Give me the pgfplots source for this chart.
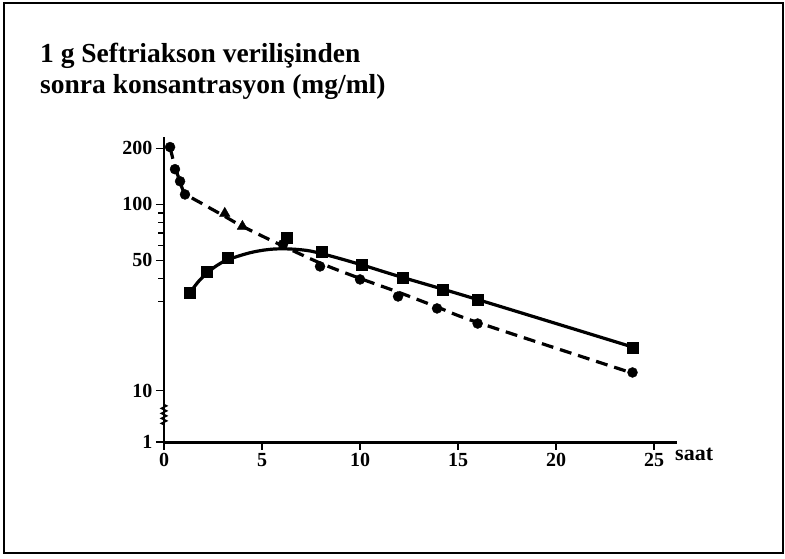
\documentclass[border=0pt]{standalone}
\usepackage{fontspec}
\setmainfont{Liberation Serif}
\usepackage{pgfplots}
\pgfplotsset{compat=1.18}
\usetikzlibrary{decorations.pathmorphing}
\begin{document}
\begin{tikzpicture}[x=1pt,y=1pt]
\useasboundingbox (0,0) rectangle (785,558);
\draw[line width=1.5pt] (4,5) rectangle (783,555);
\node[anchor=base west, font=\fontsize{27.5}{30}\selectfont\bfseries, inner sep=0pt] at (40,495) {1 g Seftriakson verilişinden};
\node[anchor=base west, font=\fontsize{27.5}{30}\selectfont\bfseries, inner sep=0pt] at (40,464) {sonra konsantrasyon (mg/ml)};
\begin{axis}[
  at={(164pt,116pt)}, anchor=south west,
  scale only axis, width=513pt, height=305pt,
  xmin=0, xmax=26.17, ymode=log, ymin=5.29, ymax=230,
  axis lines=left,
  x axis line style={-, line width=3pt},
  y axis line style={-, line width=2pt},
  xtick={0,5,10,15,20,25},
  ytick={5.29,10,50,100,200}, yticklabels={1,10,50,100,200},
  minor ytick={30,40,60,70,80,90},
  tick align=outside, major tick length=8pt, minor tick length=6pt,
  tick style={line width=1.4pt, black},
  /pgf/number format/assume math mode=true,
  ticklabel style={font=\fontsize{20}{22}\selectfont\bfseries},
  clip=false,
]
% dashed curve (circles)
\addplot[line width=3.2pt, dash pattern=on 12pt off 7pt, smooth, tension=0.5, no marks] coordinates {
(0.31,203) (0.56,158.5) (0.82,133.2) (1.07,114.8) (2,100.1) (3,87.4) (4,76.2) (6,60.2) (8,48.2) (10,40.0) (12,33.6) (14,27.9) (16,23.2) (24,12.3)};
\addplot[only marks, mark=*, mark size=5pt, black] coordinates {
(0.31,203) (0.56,154.5) (0.82,133) (1.07,113) (6.07,61) (7.96,46.4) (10,39.5) (11.94,32) (13.93,27.6) (16,22.9) (23.9,12.5)};
\addplot[only marks, mark=triangle*, mark size=6pt, black] coordinates {
(3.1,89.5) (4.0,76.2)};
% solid curve (squares)
\addplot[line width=3.2pt, smooth, tension=0.6, no marks] coordinates {
(1.33,33.6) (1.75,38.4) (2.2,42.8) (2.75,47.3) (3.3,50.6) (4.5,55.3) (5.7,57.6) (7,57.0) (8,54.5) (10,47.6) (12,41.0) (16,30.8) (24,17.0)};
\addplot[only marks, mark=square*, mark size=5.5pt, black] coordinates {
(1.33,33.6) (2.19,43.6) (3.27,51.9) (6.28,66.5) (8.06,55.9) (10.1,47.5) (12.2,40.5) (14.2,34.9) (16,30.8) (23.9,17.0)};
\draw[line width=1.6pt, decorate, decoration={zigzag, segment length=5pt, amplitude=2.5pt}] (axis cs:0,8.4) -- (axis cs:0,6.5);
\end{axis}
\node[anchor=base west, font=\fontsize{22}{24}\selectfont\bfseries, inner sep=0pt] at (675,98) {saat};
\end{tikzpicture}
\end{document}
